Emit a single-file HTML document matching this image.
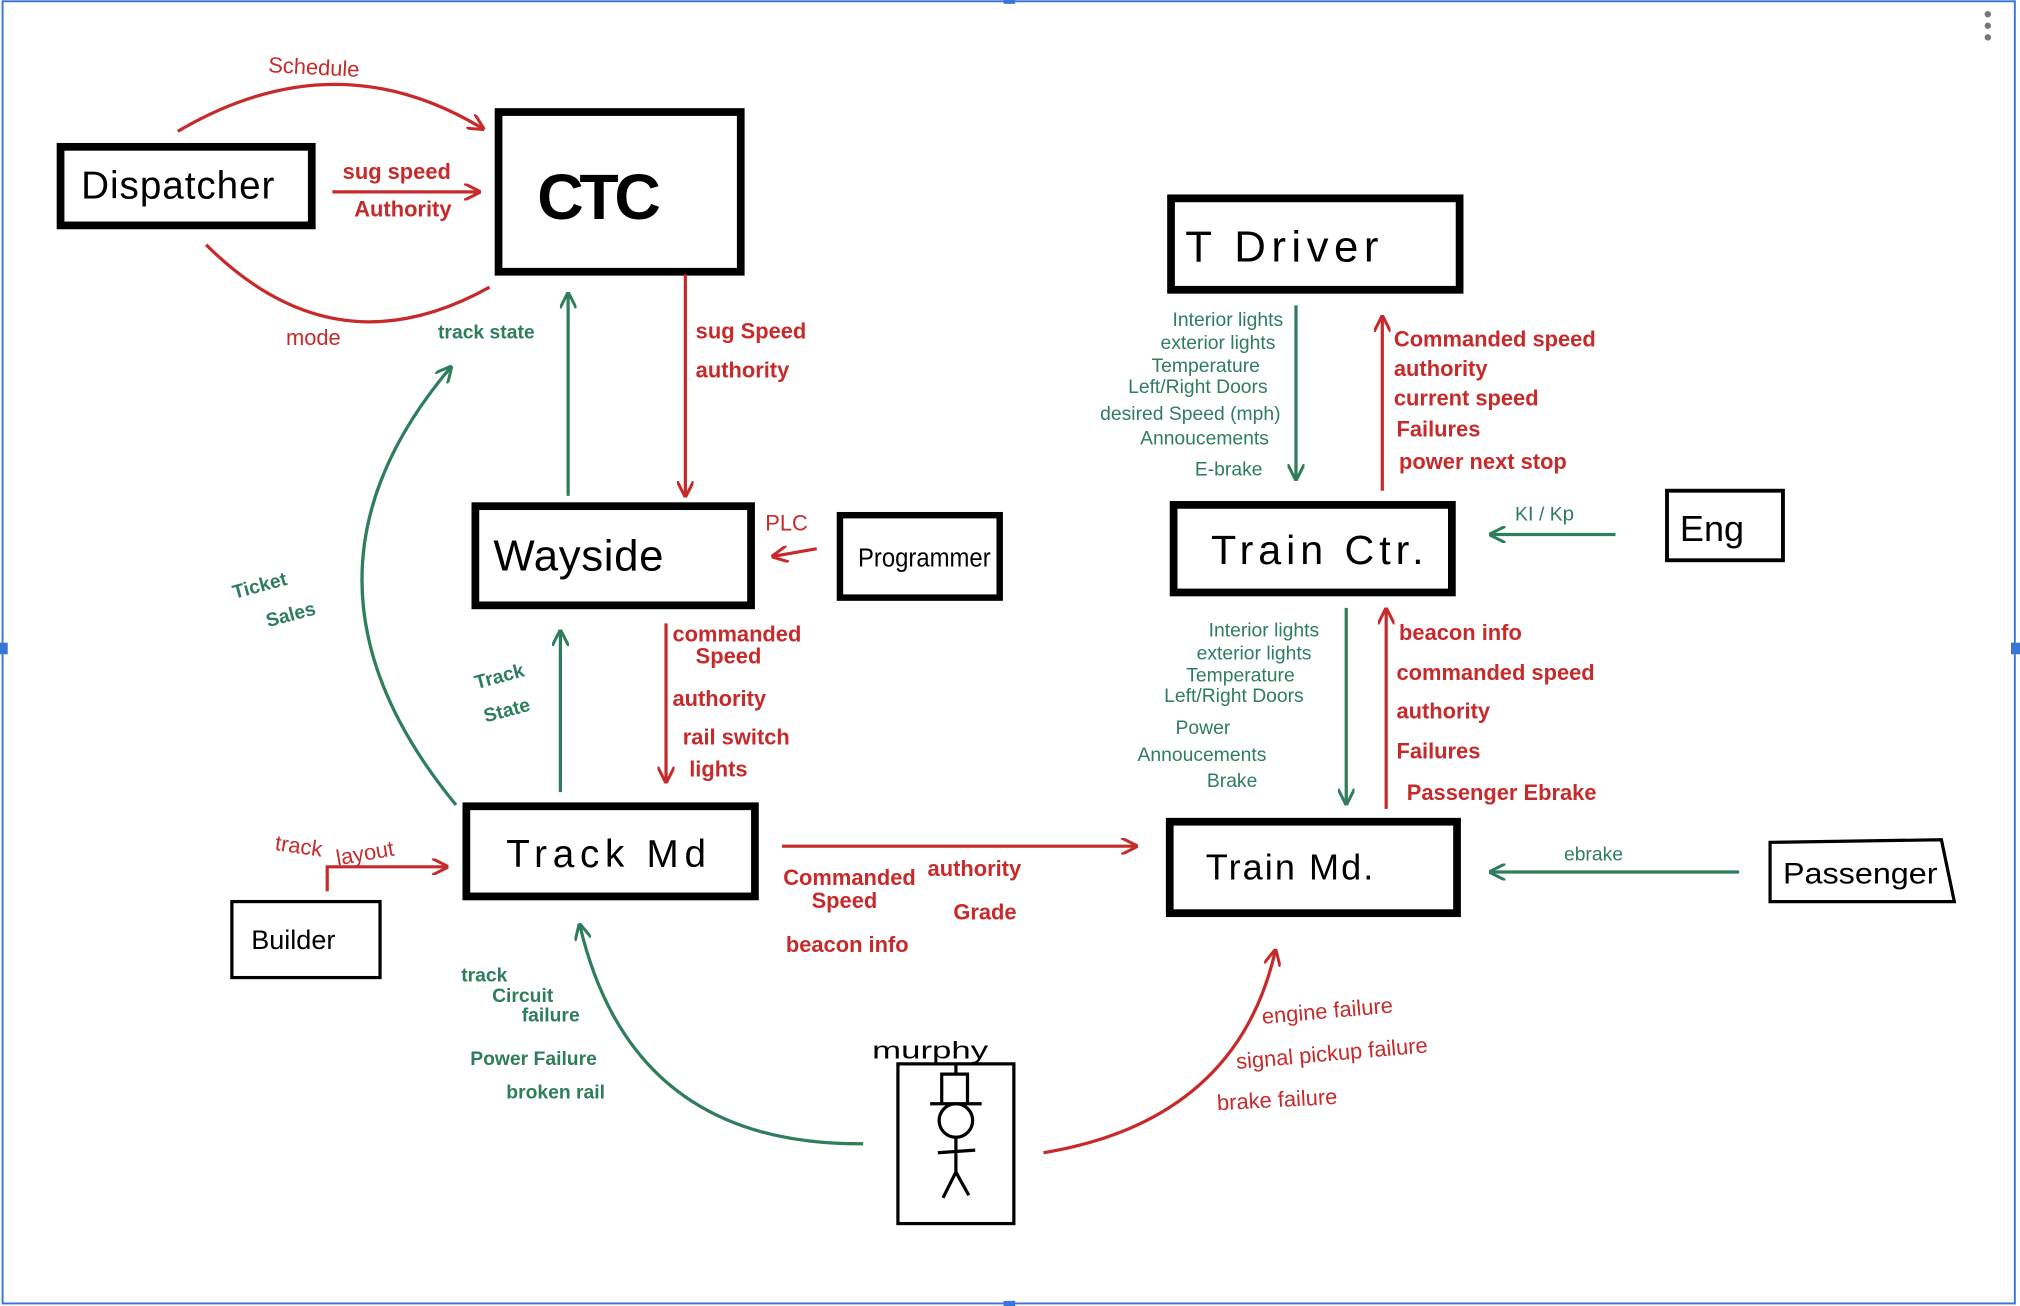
<!DOCTYPE html>
<html><head><style>
html,body{margin:0;padding:0;background:#fff;}
svg{display:block;}
text{font-family:"Liberation Sans",sans-serif;}
.r{fill:#c62a2a;font-size:17px;}
.g{fill:#2e7d5b;font-size:15px;}
.b{fill:#000;}
</style></head><body>
<svg width="2020" height="1306" viewBox="0 0 1568 1014" preserveAspectRatio="none" xmlns="http://www.w3.org/2000/svg">
<defs>
<marker id="ar" viewBox="0 0 10 10" refX="9" refY="5" markerWidth="13" markerHeight="13" orient="auto-start-reverse" markerUnits="userSpaceOnUse"><path d="M0,0 L10,5 L0,10" fill="none" stroke="#c62a2a" stroke-width="1.8"/></marker>
<marker id="ag" viewBox="0 0 10 10" refX="9" refY="5" markerWidth="13" markerHeight="13" orient="auto-start-reverse" markerUnits="userSpaceOnUse"><path d="M0,0 L10,5 L0,10" fill="none" stroke="#2e7d5b" stroke-width="1.8"/></marker>
</defs>
<rect x="0" y="0" width="1568" height="1014" fill="#fff"/>
<rect x="2" y="1" width="1562" height="1011" fill="none" stroke="#3a76d8" stroke-width="1.5"/>
<rect x="779" y="0" width="9" height="3" fill="#3a76d8"/><rect x="779" y="1010" width="9" height="4" fill="#3a76d8"/>
<rect x="0" y="499" width="6" height="9" fill="#3a76d8"/><rect x="1561" y="499" width="7" height="9" fill="#3a76d8"/>
<circle cx="1543" cy="11" r="2.5" fill="#777"/><circle cx="1543" cy="20" r="2.5" fill="#777"/><circle cx="1543" cy="29" r="2.5" fill="#777"/>

<g fill="none" stroke="#000">
<rect x="47" y="114" width="195" height="61" stroke-width="6"/>
<rect x="387" y="87" width="188" height="124" stroke-width="6"/>
<rect x="909" y="154" width="224" height="71" stroke-width="6"/>
<rect x="369" y="393" width="214" height="77" stroke-width="6"/>
<rect x="652" y="400" width="124" height="64" stroke-width="5"/>
<rect x="911" y="392" width="216" height="68" stroke-width="6"/>
<rect x="1294" y="381" width="90" height="54" stroke-width="3"/>
<rect x="362" y="626" width="224" height="70" stroke-width="6"/>
<rect x="908" y="638" width="223" height="71" stroke-width="6"/>
<rect x="180" y="700" width="115" height="59" stroke-width="2.5"/>
<path d="M1374,654 L1507,652 L1517,700 L1374,700 Z" stroke-width="2.5"/>
<rect x="697" y="826" width="90" height="124" stroke-width="2.5"/>
<circle cx="742" cy="870" r="13" stroke-width="2.5"/>
<path d="M742,883 L742,910 M728,895 L757,893 M742,910 L732,930 M742,910 L752,928 M731,857 L731,834 L751,834 L751,857 M722,857 L762,857 M742,826 L742,834" stroke-width="2.5"/>
</g>
<text x="63" y="154" class="b" font-size="30" textLength="150">Dispatcher</text>
<text x="417" y="170" class="b" font-size="50" font-weight="bold" textLength="96">CTC</text>
<text x="920" y="203" class="b" font-size="34" textLength="150">T Driver</text>
<text x="383" y="443" class="b" font-size="34" textLength="132">Wayside</text>
<text x="666" y="440" class="b" font-size="20" textLength="103" lengthAdjust="spacingAndGlyphs">Programmer</text>
<text x="940" y="438" class="b" font-size="32" textLength="165">Train Ctr.</text>
<text x="1304" y="420" class="b" font-size="28">Eng</text>
<text x="393" y="673" class="b" font-size="30" textLength="155">Track  Md</text>
<text x="936" y="683" class="b" font-size="28" textLength="130">Train  Md.</text>
<text x="195" y="737" class="b" font-size="21">Builder</text>
<text x="1384" y="686" class="b" font-size="23" textLength="120" lengthAdjust="spacingAndGlyphs">Passenger</text>
<text x="677" y="822" class="b" font-size="19" textLength="90" lengthAdjust="spacingAndGlyphs">murphy</text>

<g fill="none" stroke-width="2.5">
<path d="M138,102 Q260,30 375,100" stroke="#c62a2a" marker-end="url(#ar)"/>
<path d="M258,149 L372,149" stroke="#c62a2a" marker-end="url(#ar)"/>
<path d="M160,190 Q260,290 380,223" stroke="#c62a2a"/>
<path d="M532,213 L532,385" stroke="#c62a2a" marker-end="url(#ar)"/>
<path d="M441,385 L441,228" stroke="#2e7d5b" marker-end="url(#ag)"/>
<path d="M634,426 L600,432" stroke="#c62a2a" marker-end="url(#ar)"/>
<path d="M517,484 L517,607" stroke="#c62a2a" marker-end="url(#ar)"/>
<path d="M435,615 L435,490" stroke="#2e7d5b" marker-end="url(#ag)"/>
<path d="M354,625 Q210,450 350,285" stroke="#2e7d5b" marker-end="url(#ag)"/>
<path d="M254,692 L254,673 L347,673" stroke="#c62a2a" marker-end="url(#ar)"/>
<path d="M607,657 L882,657" stroke="#c62a2a" marker-end="url(#ar)"/>
<path d="M670,888 Q490,890 450,718" stroke="#2e7d5b" marker-end="url(#ag)"/>
<path d="M810,895 Q960,870 990,738" stroke="#c62a2a" marker-end="url(#ar)"/>
<path d="M1006,237 L1006,372" stroke="#2e7d5b" marker-end="url(#ag)"/>
<path d="M1073,381 L1073,246" stroke="#c62a2a" marker-end="url(#ar)"/>
<path d="M1254,415 L1157,415" stroke="#2e7d5b" marker-end="url(#ag)"/>
<path d="M1045,472 L1045,624" stroke="#2e7d5b" marker-end="url(#ag)"/>
<path d="M1076,628 L1076,473" stroke="#c62a2a" marker-end="url(#ar)"/>
<path d="M1350,677 L1157,677" stroke="#2e7d5b" marker-end="url(#ag)"/>
</g>

<text x="208" y="56" class="r" font-size="21" transform="rotate(3 208 56)">Schedule</text>
<text x="266" y="139" class="r" font-size="15" font-weight="bold">sug  speed</text>
<text x="275" y="168" class="r" font-size="15" font-weight="bold">Authority</text>
<text x="222" y="268" class="r" font-size="22">mode</text>
<text x="340" y="263" class="g" font-size="16" font-weight="bold">track state</text>
<text x="540" y="263" class="r" font-weight="bold">sug Speed</text>
<text x="540" y="293" class="r" font-weight="bold">authority</text>
<text x="594" y="412" class="r" font-size="20">PLC</text>
<text x="522" y="498" class="r" font-weight="bold">commanded</text>
<text x="540" y="515" class="r" font-weight="bold">Speed</text>
<text x="522" y="548" class="r" font-weight="bold">authority</text>
<text x="530" y="578" class="r" font-weight="bold">rail switch</text>
<text x="535" y="603" class="r" font-weight="bold">lights</text>
<text x="182" y="465" class="g" font-size="17" font-weight="bold" transform="rotate(-15 182 465)">Ticket</text>
<text x="208" y="487" class="g" font-size="17" font-weight="bold" transform="rotate(-15 208 487)">Sales</text>
<text x="370" y="535" class="g" font-size="17" font-weight="bold" transform="rotate(-15 370 535)">Track</text>
<text x="377" y="561" class="g" font-size="17" font-weight="bold" transform="rotate(-15 377 561)">State</text>
<text x="213" y="660" class="r" font-size="19" transform="rotate(8 213 660)">track</text>
<text x="262" y="672" class="r" font-size="17" transform="rotate(-10 262 672)">layout</text>
<text x="608" y="687" class="r" font-size="16" font-weight="bold">Commanded</text>
<text x="630" y="705" class="r" font-size="16" font-weight="bold">Speed</text>
<text x="720" y="680" class="r" font-size="16" font-weight="bold">authority</text>
<text x="740" y="714" class="r" font-size="18" font-weight="bold">Grade</text>
<text x="610" y="739" class="r" font-size="15" font-weight="bold">beacon  info</text>
<text x="358" y="762" class="g" font-size="17" font-weight="bold">track</text>
<text x="382" y="778" class="g" font-size="15" font-weight="bold">Circuit</text>
<text x="405" y="793" class="g" font-size="14" font-weight="bold">failure</text>
<text x="365" y="827" class="g" font-size="15" font-weight="bold">Power  Failure</text>
<text x="393" y="853" class="g" font-size="15" font-weight="bold">broken  rail</text>
<text x="980" y="795" class="r" font-size="19" transform="rotate(-5 980 795)">engine  failure</text>
<text x="960" y="830" class="r" font-size="19" transform="rotate(-5 960 830)">signal  pickup  failure</text>
<text x="945" y="862" class="r" font-size="19" transform="rotate(-3 945 862)">brake  failure</text>
<g class="g" font-size="14" text-anchor="end">
<text x="996" y="253">Interior  lights</text>
<text x="990" y="271">exterior  lights</text>
<text x="978" y="289">Temperature</text>
<text x="984" y="305">Left/Right  Doors</text>
<text x="994" y="326">desired  Speed  (mph)</text>
<text x="985" y="345">Annoucements</text>
<text x="980" y="369">E-brake</text>
<text x="1024" y="494">Interior  lights</text>
<text x="1018" y="512">exterior  lights</text>
<text x="1005" y="529">Temperature</text>
<text x="1012" y="545">Left/Right  Doors</text>
<text x="955" y="570">Power</text>
<text x="983" y="591">Annoucements</text>
<text x="976" y="611">Brake</text>
</g>
<g class="r" font-weight="bold" font-size="16">
<text x="1082" y="269">Commanded  speed</text>
<text x="1082" y="292">authority</text>
<text x="1082" y="315">current  speed</text>
<text x="1084" y="339">Failures</text>
<text x="1086" y="364">power   next   stop</text>
<text x="1086" y="497">beacon  info</text>
<text x="1084" y="528">commanded  speed</text>
<text x="1084" y="558">authority</text>
<text x="1084" y="589">Failures</text>
<text x="1092" y="621">Passenger  Ebrake</text>
</g>
<text x="1176" y="404" class="g" font-size="26">K<tspan font-size="16">I</tspan> / K<tspan font-size="16">p</tspan></text>
<text x="1214" y="668" class="g" font-size="24">ebrake</text>
</svg>
</body></html>
